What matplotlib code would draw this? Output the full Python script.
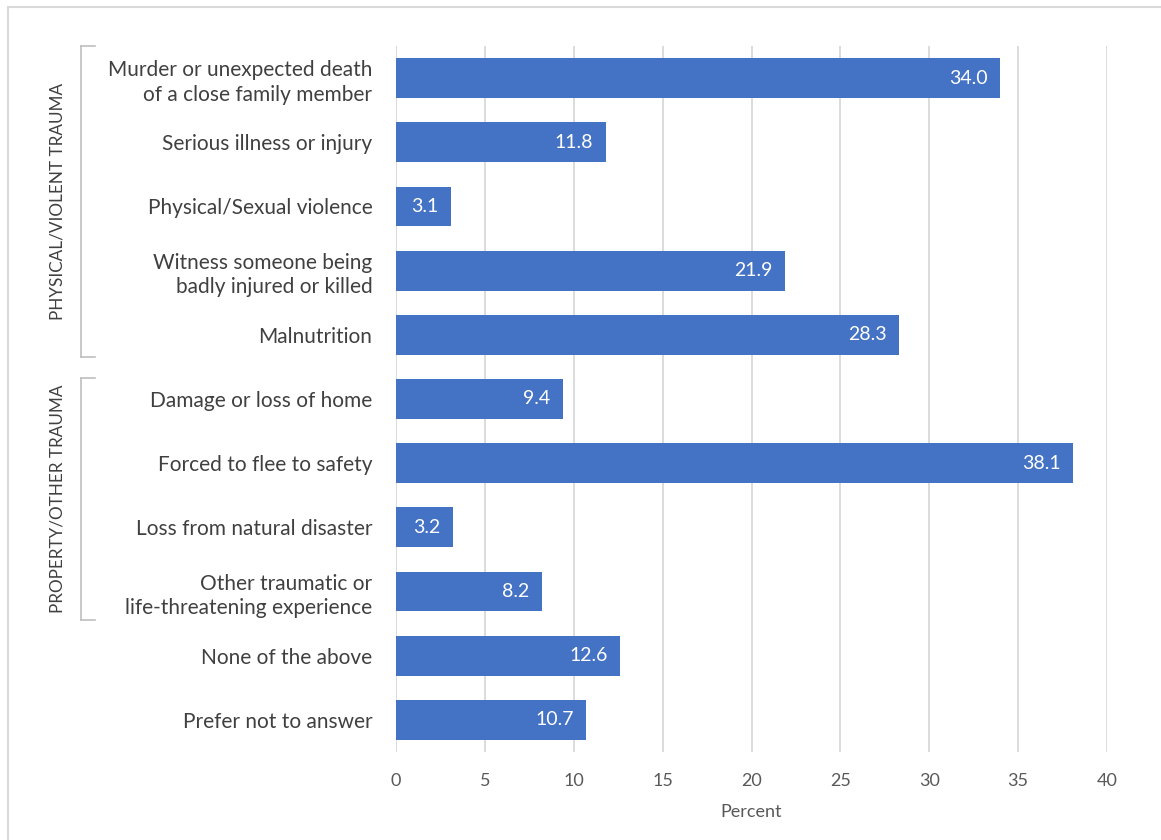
"""Horizontal bar chart of reported trauma types, grouped by category."""

import matplotlib

matplotlib.use("Agg")

import matplotlib.pyplot as plt
from matplotlib.lines import Line2D
from matplotlib.patches import Rectangle
from matplotlib.transforms import blended_transform_factory

plt.rcParams["font.family"] = ["Lato", "DejaVu Sans"]

CATEGORIES = [
    "Murder or unexpected death\nof a close family member",
    "Serious illness or injury",
    "Physical/Sexual violence",
    "Witness someone being\nbadly injured or killed",
    "Malnutrition",
    "Damage or loss of home",
    "Forced to flee to safety",
    "Loss from natural disaster",
    "Other traumatic or\nlife-threatening experience",
    "None of the above",
    "Prefer not to answer",
]
PERCENTS = [34.0, 11.8, 3.1, 21.9, 28.3, 9.4, 38.1, 3.2, 8.2, 12.6, 10.7]

# group name, top and bottom of the bracket in row units
GROUPS = [
    ("PHYSICAL/VIOLENT TRAUMA", -0.5, 4.34),
    ("PROPERTY/OTHER TRAUMA", 4.67, 8.44),
]
X_TICKS = [0, 5, 10, 15, 20, 25, 30, 35, 40]

BAR_COLOR = "#4472C4"
TEXT_COLOR = "#404040"
GRID_COLOR = "#D9D9D9"
BRACKET_COLOR = "#BFBFBF"

fig = plt.figure(figsize=(11.61, 8.4), dpi=100)
ax = fig.add_axes([0.3411, 0.1048, 0.6124, 0.8404])

rows = list(range(len(CATEGORIES)))
ax.barh(rows, PERCENTS, height=0.62, color=BAR_COLOR, zorder=3)

for row, value in zip(rows, PERCENTS):
    ax.annotate(
        f"{value:.1f}",
        xy=(value, row),
        xytext=(-9, 0),
        textcoords="offset points",
        ha="right",
        va="center",
        color="white",
        fontsize=14,
        zorder=4,
    )

ax.set_xlim(0, 40)
ax.set_ylim(10.5, -0.5)
ax.set_xticks(X_TICKS)
ax.set_yticks(rows)
ax.set_yticklabels(CATEGORIES, fontsize=15, color=TEXT_COLOR, linespacing=1.3)
ax.tick_params(axis="y", length=0, pad=17)
ax.tick_params(axis="x", length=0, pad=15, labelsize=13, labelcolor="#595959")
ax.set_xlabel("Percent", fontsize=13, color="#595959", labelpad=11)

ax.grid(axis="x", color=GRID_COLOR, linewidth=1.3, zorder=0)
for spine in ax.spines.values():
    spine.set_visible(False)

# Group brackets on the left, x in inches, y in data rows
trans = blended_transform_factory(fig.dpi_scale_trans, ax.transData)
x_line = 81 / 100
x_end = 95 / 100
for name, top, bottom in GROUPS:
    for xs, ys in (
        ([x_line, x_line], [top, bottom]),
        ([x_line, x_end], [top, top]),
        ([x_line, x_end], [bottom, bottom]),
    ):
        fig.add_artist(Line2D(xs, ys, transform=trans,
                              color=BRACKET_COLOR, linewidth=1.2))
    fig.text(
        58 / 100,
        (top + bottom) / 2,
        name,
        transform=trans,
        rotation=90,
        ha="center",
        va="center",
        fontsize=12.3,
        color=TEXT_COLOR,
    )

# Light frame round the chart area
fig.add_artist(Rectangle((8 / 1161, -0.1), 1.2, 1.1 - 7 / 840,
                         transform=fig.transFigure, fill=False,
                         edgecolor=GRID_COLOR, linewidth=1.5))

fig.savefig("out.png", dpi=100)
